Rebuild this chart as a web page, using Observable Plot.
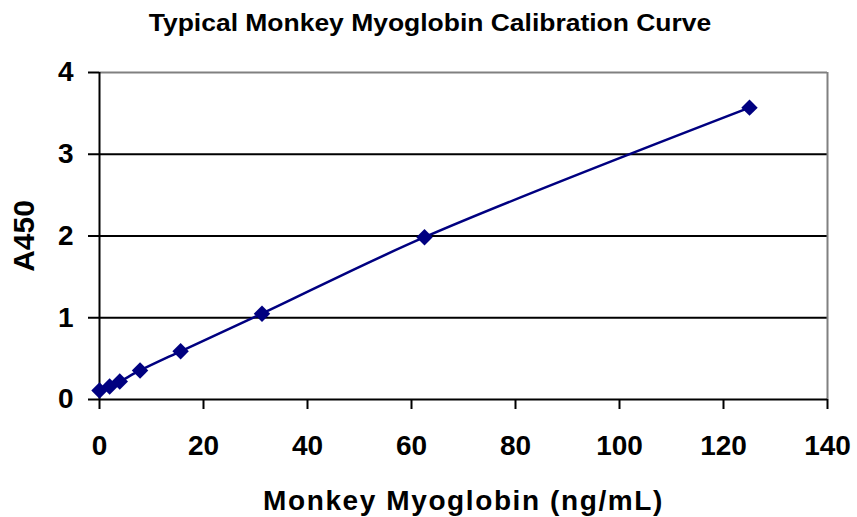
<!DOCTYPE html>
<html>
<head>
<meta charset="utf-8">
<script src="https://cdn.jsdelivr.net/npm/d3@7"></script>
<script src="https://cdn.jsdelivr.net/npm/@observablehq/plot@0.6"></script>
<style>
  html, body { margin: 0; padding: 0; background: #fff; }
  #wrap { width: 857px; height: 517px; position: relative; overflow: hidden; }
  #title { height: 50px; position: relative; }
  #title span {
    position: absolute; left: 430px; top: 11.5px;
    transform: translateX(-50%) scaleX(1.15);
    font: bold 23px "Liberation Sans", Arial, sans-serif;
    line-height: 23px; white-space: nowrap; color: #000;
  }
</style>
</head>
<body>
<div id="wrap">
  <div id="title"><span></span></div>
  <div id="chart"></div>
</div>
<script>
const titleText = "Typical Monkey Myoglobin Calibration Curve";
const xLabel = "Monkey Myoglobin (ng/mL)";
const yLabel = "A450";
const concentration = [0, 1.95, 3.9, 7.8, 15.6, 31.25, 62.5, 125];
const absorbance = [0.11, 0.16, 0.22, 0.355, 0.59, 1.05, 1.985, 3.57];
const xTicks = [0, 20, 40, 60, 80, 100, 120, 140];
const yTicks = [0, 1, 2, 3, 4];
const gridValues = [1, 2, 3];

document.querySelector("#title span").textContent = titleText;

const data = concentration.map((c, i) => ({conc: c, a450: absorbance[i]}));

const chart = Plot.plot({
  width: 857,
  height: 467,
  marginTop: 22,
  marginBottom: 118,
  marginLeft: 99,
  marginRight: 30,
  x: {domain: [0, 140]},
  y: {domain: [0, 4]},
  style: {fontFamily: "'Liberation Sans', Arial, sans-serif", fontWeight: "bold", background: "white", color: "black"},
  marks: [
    Plot.ruleY(gridValues, {stroke: "black", strokeWidth: 2}),
    Plot.ruleY([4], {stroke: "#808080", strokeWidth: 2}),
    Plot.ruleX([140], {stroke: "#808080", strokeWidth: 2}),
    Plot.ruleX([0], {stroke: "black", strokeWidth: 2}),
    Plot.ruleY([0], {stroke: "black", strokeWidth: 2}),
    Plot.axisY({ticks: yTicks, tickSize: 11, tickPadding: 15, fontSize: 28, fontWeight: "bold", label: null, strokeWidth: 2, tickFormat: d => String(d)}),
    Plot.axisX({ticks: xTicks, tickSize: 10, tickPadding: 26, fontSize: 28, fontWeight: "bold", label: null, strokeWidth: 2, tickFormat: d => String(d)}),
    Plot.line(data, {x: "conc", y: "a450", curve: "catmull-rom", stroke: "#000080", strokeWidth: 2.5}),
    Plot.dot(data, {x: "conc", y: "a450", symbol: "diamond2", r: 7.4, fill: "#000080", stroke: "none"}),
    Plot.text([xLabel], {frameAnchor: "bottom", dy: 110, lineAnchor: "bottom", textAnchor: "middle", fontSize: 28, fontWeight: "bold"}),
    Plot.text([yLabel], {frameAnchor: "left", dx: -66, rotate: -90, lineAnchor: "bottom", textAnchor: "middle", fontSize: 30, fontWeight: "bold"})
  ]
});
document.getElementById("chart").appendChild(chart);
d3.select(chart).selectAll("text").filter(function() { return this.textContent === xLabel; }).attr("letter-spacing", "1.6");
</script>
</body>
</html>
